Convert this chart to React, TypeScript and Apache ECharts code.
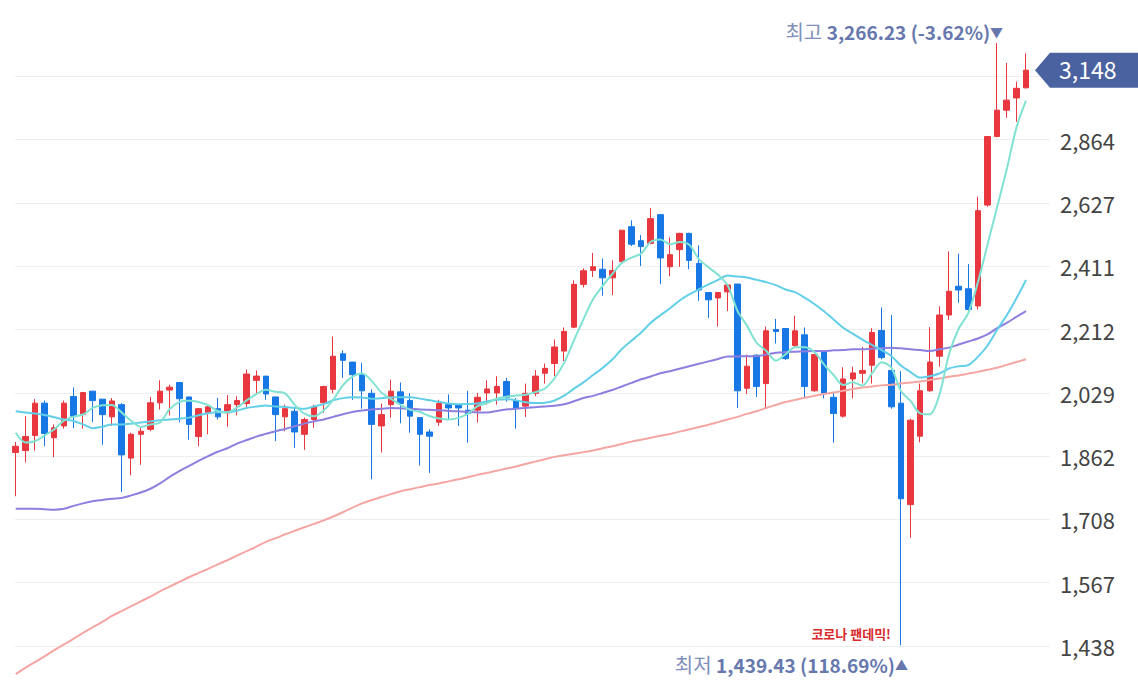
import React, { useEffect, useRef } from 'react';
import * as echarts from 'echarts';

const MONTHS = [
  '2012.07', '2012.08', '2012.09', '2012.10', '2012.11', '2012.12',
  '2013.01', '2013.02', '2013.03', '2013.04', '2013.05', '2013.06', '2013.07', '2013.08', '2013.09', '2013.10', '2013.11', '2013.12',
  '2014.01', '2014.02', '2014.03', '2014.04', '2014.05', '2014.06', '2014.07', '2014.08', '2014.09', '2014.10', '2014.11', '2014.12',
  '2015.01', '2015.02', '2015.03', '2015.04', '2015.05', '2015.06', '2015.07', '2015.08', '2015.09', '2015.10', '2015.11', '2015.12',
  '2016.01', '2016.02', '2016.03', '2016.04', '2016.05', '2016.06', '2016.07', '2016.08', '2016.09', '2016.10', '2016.11', '2016.12',
  '2017.01', '2017.02', '2017.03', '2017.04', '2017.05', '2017.06', '2017.07', '2017.08', '2017.09', '2017.10', '2017.11', '2017.12',
  '2018.01', '2018.02', '2018.03', '2018.04', '2018.05', '2018.06', '2018.07', '2018.08', '2018.09', '2018.10', '2018.11', '2018.12',
  '2019.01', '2019.02', '2019.03', '2019.04', '2019.05', '2019.06', '2019.07', '2019.08', '2019.09', '2019.10', '2019.11', '2019.12',
  '2020.01', '2020.02', '2020.03', '2020.04', '2020.05', '2020.06', '2020.07', '2020.08', '2020.09', '2020.10', '2020.11', '2020.12',
  '2021.01', '2021.02', '2021.03', '2021.04',
];

const OPEN = [
  1871, 1876, 1915, 2001, 1909, 1940, 2019, 1970, 2034, 2012,
  1964, 1997, 1857, 1918, 1931, 2002, 2037, 2058, 2018, 1912,
  1975, 1986, 1975, 1997, 2000, 2064, 2076, 2018, 1964, 1979,
  1918, 1957, 2002, 2039, 2140, 2116, 2080, 2028, 1940, 1997,
  2032, 2008, 1962, 1924, 1950, 1997, 1997, 1982, 1982, 2029,
  2029, 2061, 2008, 1993, 2028, 2084, 2112, 2148, 2219, 2352,
  2397, 2401, 2373, 2426, 2544, 2496, 2487, 2586, 2409, 2466,
  2521, 2420, 2326, 2309, 2328, 2353, 2042, 2136, 2055, 2212,
  2215, 2164, 2196, 2035, 2148, 2017, 1966, 2068, 2084, 2107,
  2209, 2092, 2001, 1743, 1913, 2035, 2133, 2256, 2346, 2338,
  2284, 2620, 2876, 2981, 3031, 3073,
];

const CLOSE = [
  1887, 1912, 2001, 1920, 1935, 2001, 1966, 2030, 2008, 1970,
  2007, 1865, 1918, 1926, 2002, 2034, 2045, 2013, 1944, 1986,
  1991, 1964, 1997, 2008, 2082, 2076, 2026, 1970, 1986, 1924,
  1957, 1991, 2047, 2133, 2121, 2080, 2035, 1944, 1970, 2034,
  2000, 1966, 1918, 1913, 2000, 1988, 1988, 1973, 2017, 2040,
  2047, 2017, 1988, 2028, 2076, 2098, 2160, 2206, 2352, 2396,
  2409, 2373, 2397, 2532, 2484, 2476, 2572, 2438, 2449, 2521,
  2430, 2334, 2303, 2326, 2350, 2035, 2104, 2047, 2208, 2206,
  2126, 2208, 2047, 2138, 2029, 1973, 2068, 2085, 2092, 2203,
  2129, 1991, 1757, 1955, 2035, 2116, 2256, 2330, 2334, 2273,
  2600, 2876, 2981, 3022, 3071, 3147.86,
];

const LOW = [
  1763, 1846, 1876, 1887, 1859, 1933, 1934, 1933, 1950, 1891,
  1940, 1773, 1814, 1840, 1926, 1984, 1968, 1950, 1904, 1887,
  1918, 1957, 1938, 1968, 1991, 2028, 2010, 1900, 1926, 1883,
  1878, 1935, 1975, 2028, 2071, 2010, 1986, 1804, 1871, 1962,
  1947, 1922, 1838, 1820, 1940, 1957, 1940, 1896, 1949, 1997,
  1997, 2005, 1933, 1964, 2020, 2055, 2076, 2119, 2216, 2342,
  2376, 2316, 2318, 2423, 2478, 2411, 2484, 2352, 2378, 2409,
  2401, 2300, 2247, 2221, 2268, 1988, 2026, 2018, 1988, 2170,
  2122, 2160, 2018, 2032, 2014, 1896, 1962, 2014, 2056, 2055,
  2124, 1986, 1439.43, 1666, 1897, 2032, 2103, 2241, 2294, 2268,
  2273, 2614, 2873, 2950, 2934, 3071,
];

const HIGH = [
  1898, 1966, 2012, 2008, 1944, 2008, 2044, 2032, 2034, 2012,
  2015, 2001, 1922, 1935, 2018, 2064, 2052, 2058, 2018, 1988,
  1992, 2015, 2023, 2020, 2095, 2092, 2076, 2018, 1997, 1991,
  1962, 1997, 2049, 2191, 2150, 2116, 2114, 2039, 2000, 2066,
  2058, 2028, 1962, 1931, 2010, 2025, 1997, 2035, 2029, 2064,
  2076, 2071, 2015, 2055, 2093, 2112, 2182, 2218, 2365, 2404,
  2455, 2436, 2430, 2532, 2566, 2515, 2609, 2586, 2507, 2523,
  2523, 2480, 2328, 2328, 2353, 2353, 2138, 2138, 2221, 2244,
  2215, 2254, 2218, 2138, 2148, 2032, 2101, 2103, 2160, 2216,
  2279, 2256, 2090, 1959, 2055, 2219, 2283, 2460, 2452, 2418,
  2650, 2876, 3266.23, 3179, 3099, 3221,
];

const MA5_HEAD = [1922, 1897, 1900, 1915];
const MA20_HEAD = [
  1979, 1976, 1973, 1969, 1963, 1957, 1953, 1944, 1934, 1938,
  1944, 1944, 1946, 1949, 1952, 1955, 1957, 1959, 1962,
];

const MA60 = [
  1733, 1733, 1733, 1732, 1731, 1733, 1740, 1746, 1751, 1754,
  1757, 1759, 1765, 1772, 1781, 1794, 1810, 1824, 1837, 1850,
  1862, 1873, 1882, 1894, 1903, 1912, 1919, 1926, 1932, 1939,
  1946, 1952, 1957, 1964, 1971, 1977, 1981, 1984, 1986, 1988,
  1987, 1986, 1984, 1983, 1982, 1980, 1979, 1978, 1976, 1976,
  1980, 1984, 1986, 1988, 1990, 1992, 1994, 1998, 2006, 2015,
  2021, 2029, 2037, 2047, 2057, 2067, 2075, 2084, 2090, 2097,
  2104, 2111, 2118, 2125, 2132, 2132, 2133, 2133, 2138, 2143,
  2145, 2146, 2147, 2148, 2148, 2150, 2151, 2153, 2153, 2155,
  2156, 2158, 2156, 2153, 2151, 2148, 2153, 2158, 2167, 2176,
  2185, 2197, 2216, 2232, 2250, 2268,
];

const MA120 = [
  1384, 1396, 1407, 1418, 1430, 1441, 1452, 1464, 1475, 1486,
  1498, 1508, 1518, 1528, 1538, 1549, 1559, 1569, 1579, 1588,
  1597, 1607, 1616, 1626, 1636, 1646, 1657, 1665, 1674, 1682,
  1690, 1698, 1706, 1715, 1725, 1736, 1746, 1754, 1761, 1768,
  1775, 1780, 1785, 1790, 1794, 1799, 1804, 1809, 1815, 1820,
  1825, 1831, 1836, 1842, 1848, 1854, 1860, 1864, 1868, 1872,
  1876, 1882, 1887, 1893, 1899, 1904, 1909, 1914, 1919, 1925,
  1931, 1937, 1943, 1950, 1957, 1964, 1972, 1979, 1988, 1996,
  2004, 2010, 2016, 2021, 2026, 2030, 2035, 2040, 2044, 2047,
  2050, 2052, 2055, 2058, 2061, 2065, 2069, 2074, 2078, 2083,
  2088, 2094, 2100, 2108, 2116, 2124,
];

const Y_TICKS = [1438, 1567, 1708, 1862, 2029, 2212, 2411, 2627, 2864];

const FONT = "'Noto Sans CJK KR', 'Noto Sans', sans-serif";
const RED = '#e8373e';
const BLUE = '#1677e5';
const NOTE = '#6678ad';

// geometric (log) price axis: tick k sits at Y_TICKS[0] * ratio^k
const Y_RATIO = Math.pow(Y_TICKS[Y_TICKS.length - 1] / Y_TICKS[0], 1 / (Y_TICKS.length - 1));
const toAxis = (v: number) => Math.log(v / Y_TICKS[0]) / Math.log(Y_RATIO);

const movingAverage = (head: number[], n: number) =>
  CLOSE.map((_, i) => {
    if (i < n - 1) return head[i];
    let s = 0;
    for (let j = i - n + 1; j <= i; j++) s += CLOSE[j];
    return s / n;
  });

const fmt2 = (v: number) =>
  v.toLocaleString('en-US', { minimumFractionDigits: 2, maximumFractionDigits: 2 });

export default function App() {
  const ref = useRef<HTMLDivElement>(null);

  useEffect(() => {
    if (!ref.current) return;
    const chart = echarts.init(ref.current, undefined, { renderer: 'svg' });

    const MA5 = movingAverage(MA5_HEAD, 5);
    const MA20 = movingAverage(MA20_HEAD, 20);
    const labels = Y_TICKS.map((v) => v.toLocaleString('en-US'));

    const top = 38.32;
    const bottom = 48;
    const yCommon = { type: 'value' as const, min: 0, max: 9.6, interval: 1 };

    const lineSeries = (name: string, data: number[], color: string) => ({
      name,
      type: 'line' as const,
      xAxisIndex: 0,
      yAxisIndex: 0,
      data: data.map(toAxis),
      symbol: 'none',
      smooth: 0.3,
      clip: false,
      lineStyle: { color, width: 2 },
      z: 3,
    });

    chart.setOption({
      animation: false,
      backgroundColor: '#ffffff',
      textStyle: { fontFamily: FONT },
      grid: [
        { left: 10.9, right: 107.2, top, bottom },
        { left: 15, right: 88, top, bottom },
      ],
      xAxis: [
        { type: 'category', gridIndex: 0, data: MONTHS, boundaryGap: true, show: false },
        { type: 'value', gridIndex: 1, min: 0, max: 1, show: false },
      ],
      yAxis: [
        { ...yCommon, gridIndex: 0, show: false, splitLine: { show: false } },
        {
          ...yCommon,
          gridIndex: 1,
          position: 'right',
          axisLine: { show: false },
          axisTick: { show: false },
          splitLine: {
            show: true,
            showMinLine: true,
            showMaxLine: false,
            lineStyle: { color: '#eeeeee', width: 1 },
          },
          axisLabel: {
            show: true,
            margin: 10,
            align: 'left',
            fontSize: 22,
            color: '#444444',
            fontFamily: FONT,
            padding: [0, 0, 5, 0],
            showMinLabel: true,
            showMaxLabel: false,
            formatter: (val: number) => {
              const i = Math.round(val);
              if (Math.abs(val - i) > 1e-6) return '';
              return labels[i] ?? '';
            },
          },
        },
      ],
      series: [
        {
          name: 'KOSPI',
          type: 'candlestick',
          xAxisIndex: 0,
          yAxisIndex: 0,
          barWidth: 6,
          clip: false,
          data: MONTHS.map((_, i) => [toAxis(OPEN[i]), toAxis(CLOSE[i]), toAxis(LOW[i]), toAxis(HIGH[i])]),
          itemStyle: { color: RED, color0: BLUE, borderColor: RED, borderColor0: BLUE, borderWidth: 1 },
          z: 2,
        },
        lineSeries('MA120', MA120, '#f5a6a3'),
        lineSeries('MA60', MA60, '#8c7fe0'),
        lineSeries('MA20', MA20, '#62cfe8'),
        lineSeries('MA5', MA5, '#80e2d2'),
      ],
    });

    // annotations placed through the chart's own coordinate conversion
    let hiIdx = 0;
    let loIdx = 0;
    HIGH.forEach((v, i) => { if (v > HIGH[hiIdx]) hiIdx = i; });
    LOW.forEach((v, i) => { if (v < LOW[loIdx]) loIdx = i; });
    const last = CLOSE.length - 1;
    const hiVal = HIGH[hiIdx];
    const loVal = LOW[loIdx];
    const lastVal = CLOSE[last];
    const hiPct = (lastVal / hiVal - 1) * 100;
    const loPct = (lastVal / loVal - 1) * 100;

    const [hx, hy] = chart.convertToPixel({ seriesIndex: 0 }, [hiIdx, toAxis(hiVal)]) as number[];
    const [lx, ly] = chart.convertToPixel({ seriesIndex: 0 }, [loIdx, toAxis(loVal)]) as number[];
    const [, cy] = chart.convertToPixel({ seriesIndex: 0 }, [last, toAxis(lastVal)]) as number[];

    const rich = {
      a: { fontSize: 20, fill: '#7f8fb9', fontFamily: FONT },
      b: { fontSize: 19, fontWeight: 'bold', fill: NOTE, fontFamily: FONT },
      c: { fontSize: 13, fill: NOTE, fontFamily: FONT },
    };
    const tipX = 1035;

    chart.setOption({
      graphic: [
        {
          type: 'text',
          x: hx + 6,
          y: hy - 12,
          z: 100,
          style: {
            text: `{a|최고 }{b|${fmt2(hiVal)} (${hiPct >= 0 ? '+' : ''}${fmt2(hiPct)}%)}{c|▼}`,
            rich,
            align: 'right',
            verticalAlign: 'middle',
          },
        },
        {
          type: 'text',
          x: lx + 7,
          y: ly + 19,
          z: 100,
          style: {
            text: `{a|최저 }{b|${fmt2(loVal)} (${fmt2(loPct)}%)}{c|▲}`,
            rich,
            align: 'right',
            verticalAlign: 'middle',
          },
        },
        {
          type: 'text',
          x: lx - 10,
          y: ly - 12,
          z: 100,
          style: {
            text: '코로나 팬데믹!',
            fill: '#d92b2b',
            fontSize: 13,
            fontWeight: 'bold',
            fontFamily: FONT,
            align: 'right',
            verticalAlign: 'middle',
          },
        },
        {
          type: 'polygon',
          z: 100,
          shape: {
            points: [
              [tipX, cy],
              [tipX + 15, cy - 17.5],
              [1138, cy - 17.5],
              [1138, cy + 17.5],
              [tipX + 15, cy + 17.5],
            ],
          },
          style: { fill: '#4a62a0' },
        },
        {
          type: 'text',
          x: 1059,
          y: cy - 1,
          z: 101,
          style: {
            text: Math.round(lastVal).toLocaleString('en-US'),
            fill: '#ffffff',
            fontSize: 23,
            fontFamily: FONT,
            align: 'left',
            verticalAlign: 'middle',
          },
        },
      ],
    });

    return () => chart.dispose();
  }, []);

  return (
    <div
      ref={ref}
      style={{ position: 'absolute', left: 0, top: 0, width: 1138, height: 694, background: '#fff' }}
    />
  );
}
